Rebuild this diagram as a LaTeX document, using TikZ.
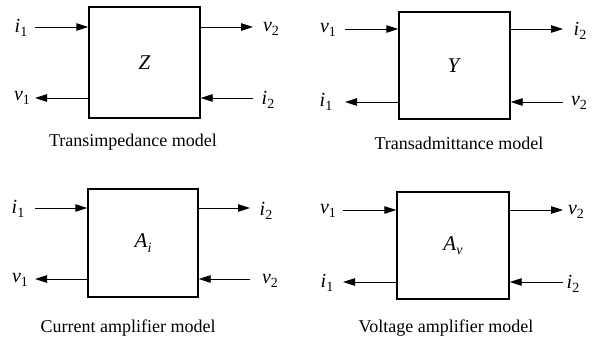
\documentclass[tikz,border=0pt]{standalone}
\usepackage{fontspec}
\setmainfont{Liberation Serif}
\usetikzlibrary{arrows.meta}
\newcommand{\sym}[2]{\textit{#1}\raisebox{-0.45ex}{\fontsize{14}{14}\selectfont #2}}
\begin{document}
\begin{tikzpicture}[x=1pt,y=-1pt,font=\fontsize{18}{20}\selectfont,
  blk/.style={draw,line width=1.4pt,inner sep=0pt,font=\fontsize{21}{24}\selectfont},
  arr/.style={-{Triangle[length=12pt,width=7.5pt]},line width=0.9pt},
  lbl/.style={inner sep=0pt,font=\fontsize{20}{22}\selectfont}]
\useasboundingbox (0,0) rectangle (596,338);
% ---------- Transimpedance ----------
\node[blk,minimum width=111pt,minimum height=111pt] (Z) at (144.5,62.5) {\textit{Z}};
\coordinate (z1) at (35,27); \coordinate (z2) at (35,98);
\coordinate (z3) at (253,27); \coordinate (z4) at (253,98);
\draw[arr] (z1) -- (z1 -| Z.west);
\draw[arr] (z2 -| Z.west) -- (z2);
\draw[arr] (z3 -| Z.east) -- (z3);
\draw[arr] (z4) -- (z4 -| Z.east);
\node[lbl] (zl1) at (21,28) {\sym{i}{1}};
\node[lbl] (zl2) at (22,98) {\sym{v}{1}};
\node[lbl] (zl3) at (271,29) {\sym{v}{2}};
\node[lbl] (zl4) at (268,100) {\sym{i}{2}};
\node (zc) at (133,142) {Transimpedance model};
% ---------- Transadmittance ----------
\node[blk,minimum width=111pt,minimum height=107pt] (Y) at (454.5,65.5) {\textit{Y}};
\coordinate (y1) at (345,29); \coordinate (y2) at (345,102);
\coordinate (y3) at (563,29); \coordinate (y4) at (563,102);
\draw[arr] (y1) -- (y1 -| Y.west);
\draw[arr] (y2 -| Y.west) -- (y2);
\draw[arr] (y3 -| Y.east) -- (y3);
\draw[arr] (y4) -- (y4 -| Y.east);
\node[lbl] (yl1) at (328,30) {\sym{v}{1}};
\node[lbl] (yl2) at (326,102) {\sym{i}{1}};
\node[lbl] (yl3) at (580,31) {\sym{i}{2}};
\node[lbl] (yl4) at (579,103) {\sym{v}{2}};
\node (yc) at (459,143) {Transadmittance model};
% ---------- Current amplifier ----------
\node[blk,minimum width=110pt,minimum height=108pt] (Ai) at (143,243) {\sym{A}{\textit{i}}};
\coordinate (a1) at (35,208); \coordinate (a2) at (35,279);
\coordinate (a3) at (250,208); \coordinate (a4) at (250,279);
\draw[arr] (a1) -- (a1 -| Ai.west);
\draw[arr] (a2 -| Ai.west) -- (a2);
\draw[arr] (a3 -| Ai.east) -- (a3);
\draw[arr] (a4) -- (a4 -| Ai.east);
\node[lbl] (al1) at (18,209) {\sym{i}{1}};
\node[lbl] (al2) at (20,280) {\sym{v}{1}};
\node[lbl] (al3) at (266,211) {\sym{i}{2}};
\node[lbl] (al4) at (270,281) {\sym{v}{2}};
\node (ac) at (128,328) {Current amplifier model};
% ---------- Voltage amplifier ----------
\node[blk,minimum width=112pt,minimum height=107pt] (Av) at (453,245.5) {\sym{A}{\textit{v}}};
\coordinate (b1) at (343,210); \coordinate (b2) at (343,282);
\coordinate (b3) at (563,210); \coordinate (b4) at (563,282);
\draw[arr] (b1) -- (b1 -| Av.west);
\draw[arr] (b2 -| Av.west) -- (b2);
\draw[arr] (b3 -| Av.east) -- (b3);
\draw[arr] (b4) -- (b4 -| Av.east);
\node[lbl] (bl1) at (328,211) {\sym{v}{1}};
\node[lbl] (bl2) at (327,283) {\sym{i}{1}};
\node[lbl] (bl3) at (576,212) {\sym{v}{2}};
\node[lbl] (bl4) at (573,284) {\sym{i}{2}};
\node (bc) at (446,328) {Voltage amplifier model};
\end{tikzpicture}
\end{document}
